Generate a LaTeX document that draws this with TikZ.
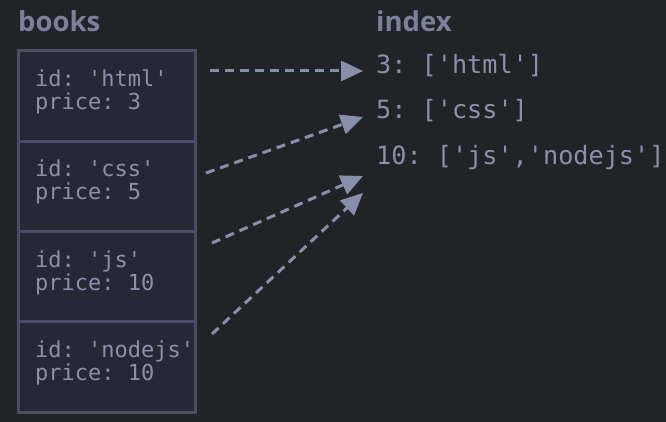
\documentclass[tikz,border=0pt]{standalone}
\usepackage{fontspec}
\usetikzlibrary{arrows.meta}
\newfontfamily\titlefont{Open Sans}
\newfontfamily\codefont{DejaVu Sans Mono}
\frenchspacing
\definecolor{bgc}{HTML}{222327}
\definecolor{cellfill}{HTML}{262835}
\definecolor{cellborder}{HTML}{4A4D64}
\definecolor{titlec}{HTML}{7C8199}
\definecolor{textc}{HTML}{8C91A9}
\definecolor{arrowc}{HTML}{8A8FA9}
\tikzset{
  cellbox/.style={draw=cellborder, fill=cellfill, line width=3pt, minimum width=177pt, minimum height=90.5pt, inner sep=0pt, outer sep=0pt},
  titletext/.style={anchor=base west, inner sep=0pt, text=titlec, font=\titlefont\bfseries\fontsize{27.5}{30}\selectfont},
  booktext/.style={anchor=base west, inner sep=0pt, text=textc, font=\codefont\fontsize{22}{24}\selectfont},
  idxtext/.style={anchor=base west, inner sep=0pt, text=textc, font=\codefont\fontsize{25.2}{28}\selectfont},
  link/.style={draw=arrowc, line width=3pt, dash pattern=on 9pt off 6pt, -{Triangle[length=22pt,width=20pt]}}
}
\begin{document}
\begin{tikzpicture}[x=1pt,y=-1pt]
\fill[bgc] (0,0) rectangle (666,422);
\useasboundingbox (0,0) rectangle (666,422);
% titles
\node[titletext] (tb) at (18,31.5) {books};
\node[titletext] (ti) at (376,31.5) {index};
% book cells
\node[cellbox] (c1) at (106.5,96) {};
\node[cellbox] (c2) at (106.5,186.5) {};
\node[cellbox] (c3) at (106.5,277) {};
\node[cellbox] (c4) at (106.5,367) {};
% book texts
\node[booktext] (id1) at (35,87) {id: 'html'};
\node[booktext] (pr1) at (35,110) {price: 3};
\node[booktext] (id2) at (35,177) {id: 'css'};
\node[booktext] (pr2) at (35,200) {price: 5};
\node[booktext] (id3) at (35,267) {id: 'js'};
\node[booktext] (pr3) at (35,290) {price: 10};
\node[booktext] (id4) at (35,357) {id: 'nodejs'};
\node[booktext] (pr4) at (35,380) {price: 10};
% index texts
\node[idxtext] (i3) at (376,74) {3: ['html']};
\node[idxtext] (i5) at (376,119) {5: ['css']};
\node[idxtext] (i10) at (376,165) {10: ['js','nodejs']};
% connector ends
\coordinate (s1) at (210,71);
\coordinate (s2) at (206,173);
\coordinate (s3) at (212,243);
\coordinate (s4) at (212,334);
\coordinate (e1) at (363,71);
\coordinate (e2) at (363,117);
\coordinate (e3) at (363,176);
\coordinate (e4) at (363,193);
\draw[link] (s1) -- (e1);
\draw[link] (s2) -- (e2);
\draw[link] (s3) -- (e3);
\draw[link] (s4) -- (e4);
\end{tikzpicture}
\end{document}
